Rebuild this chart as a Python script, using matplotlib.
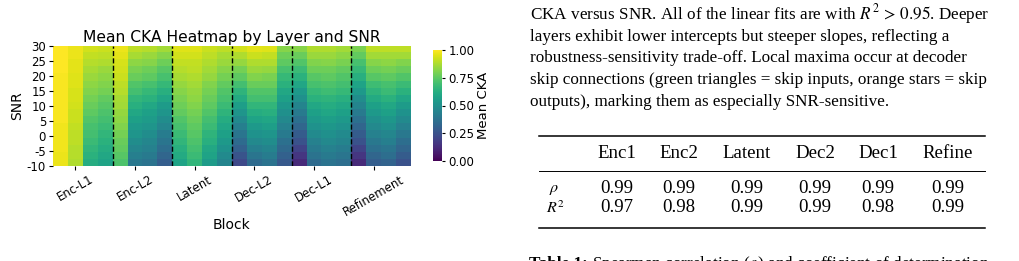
import numpy as np
import matplotlib.pyplot as plt
from matplotlib.lines import Line2D

plt.rcParams['mathtext.fontset'] = 'stix'
plt.rcParams['axes.unicode_minus'] = False

W, H = 1019, 261

blocks = ["Enc-L1", "Enc-L2", "Latent", "Dec-L2", "Dec-L1", "Refinement"]
snr_ticks = [30, 25, 20, 15, 10, 5, 0, -5, -10]
snr_min, snr_max = -10, 30

# mean CKA, 4 layers per block, each list runs from SNR -10 up to SNR 30
enc_l1 = [
    [.97, .97, .98, .98, .98, .98, .99, .99, .99, .99, .99, .99, .99, 1.0, 1.0, 1.0, 1.0],
    [.88, .89, .89, .90, .90, .91, .92, .92, .93, .94, .94, .95, .95, .96, .96, .97, .97],
    [.62, .64, .66, .68, .70, .71, .73, .75, .77, .79, .81, .83, .85, .87, .89, .91, .93],
    [.58, .60, .62, .64, .66, .68, .70, .72, .74, .76, .79, .81, .83, .85, .88, .90, .92],
]
enc_l2 = [
    [.72, .74, .76, .77, .79, .81, .83, .84, .86, .87, .89, .90, .92, .93, .94, .96, .97],
    [.40, .43, .46, .49, .52, .54, .57, .60, .63, .66, .70, .73, .77, .80, .83, .87, .90],
    [.38, .41, .44, .46, .49, .52, .55, .57, .60, .64, .67, .71, .75, .78, .82, .85, .89],
    [.30, .33, .36, .39, .42, .46, .49, .52, .55, .59, .63, .67, .71, .74, .78, .82, .86],
]
latent = [
    [.58, .61, .63, .66, .68, .71, .73, .76, .78, .80, .82, .84, .87, .89, .91, .93, .95],
    [.66, .68, .70, .72, .74, .75, .77, .79, .81, .83, .84, .86, .88, .90, .91, .93, .95],
    [.55, .58, .60, .63, .65, .68, .70, .73, .75, .77, .79, .81, .84, .86, .88, .90, .92],
    [.45, .48, .51, .54, .57, .59, .62, .65, .68, .71, .73, .76, .79, .82, .85, .87, .90],
]
dec_l2 = [
    [.22, .26, .31, .35, .39, .43, .48, .52, .56, .61, .65, .70, .75, .79, .84, .88, .93],
    [.35, .39, .43, .47, .51, .54, .58, .62, .66, .70, .73, .77, .81, .85, .88, .92, .96],
    [.38, .42, .45, .49, .52, .56, .59, .63, .66, .70, .73, .77, .80, .84, .88, .91, .95],
    [.28, .31, .34, .37, .41, .44, .47, .50, .53, .57, .60, .64, .67, .71, .75, .78, .82],
]
dec_l1 = [
    [.12, .16, .20, .25, .29, .33, .37, .41, .45, .50, .54, .59, .64, .68, .73, .77, .82],
    [.35, .38, .41, .44, .48, .51, .54, .57, .60, .64, .67, .71, .74, .78, .81, .85, .88],
    [.38, .41, .44, .47, .50, .53, .56, .59, .62, .65, .69, .72, .75, .78, .82, .85, .88],
    [.36, .39, .42, .45, .48, .51, .54, .57, .60, .63, .67, .70, .73, .76, .80, .83, .86],
]
refinement = [
    [.12, .16, .20, .25, .29, .33, .37, .41, .45, .49, .54, .58, .63, .67, .71, .76, .80],
    [.30, .33, .37, .40, .44, .47, .50, .54, .57, .61, .65, .69, .74, .78, .82, .86, .90],
    [.32, .36, .39, .43, .46, .50, .53, .57, .60, .64, .68, .71, .75, .79, .83, .86, .90],
    [.25, .29, .33, .36, .40, .44, .48, .51, .55, .59, .64, .68, .73, .77, .81, .86, .90],
]

# table values
table_cols = ["Enc1", "Enc2", "Latent", "Dec2", "Dec1", "Refine"]
rho = [0.99, 0.99, 0.99, 0.99, 0.99, 0.99]
r2 = [0.97, 0.98, 0.99, 0.99, 0.98, 0.99]

paragraph = [
    r"CKA versus SNR. All of the linear fits are with $R^2\,>\,0.95$. Deeper",
    "layers exhibit lower intercepts but steeper slopes, reflecting a",
    "robustness-sensitivity trade-off. Local maxima occur at decoder",
    "skip connections (green triangles = skip inputs, orange stars = skip",
    "outputs), marking them as especially SNR-sensitive.",
]


def fx(px):
    return px / W


def fy(py):
    return 1 - py / H


cols = enc_l1 + enc_l2 + latent + dec_l2 + dec_l1 + refinement
cka = np.array(cols).T
ncols = cka.shape[1]
per_block = ncols // len(blocks)

fig = plt.figure(figsize=(W / 100, H / 100), dpi=100)

ax = fig.add_axes([fx(53), fy(166), 358 / W, 120 / H])
im = ax.imshow(cka, cmap='viridis', vmin=0, vmax=1, aspect='auto', origin='lower',
               extent=[0, ncols, snr_min, snr_max], interpolation='nearest')
for k in range(1, len(blocks)):
    ax.axvline(k * per_block, color='black', ls='--', lw=1)
ax.set_xticks([k * per_block + 1.5 for k in range(len(blocks))])
ax.set_xticklabels(blocks, rotation=30)
ax.set_yticks(snr_ticks)
ax.tick_params(labelsize=8.5, length=3, pad=2)
for s in ax.spines.values():
    s.set_visible(False)
ax.set_xlabel('Block', fontsize=10, labelpad=0)
ax.set_ylabel('SNR', fontsize=10, labelpad=2)
ax.set_title('Mean CKA Heatmap by Layer and SNR', fontsize=11.2, pad=3)

cax = fig.add_axes([fx(433), fy(161), 9 / W, 111 / H])
cb = fig.colorbar(im, cax=cax, ticks=[0, 0.25, 0.5, 0.75, 1.0], format='%.2f')
cb.outline.set_visible(False)
cb.ax.tick_params(labelsize=8.5, length=2.5, pad=2)
cb.set_label('Mean CKA', fontsize=9.5, labelpad=2)

# paper text on the right
serif = 'Liberation Serif'
for i, line in enumerate(paragraph):
    fig.text(fx(530), fy(19 + i * 21.75), line, fontsize=12.3, family=serif,
             va='baseline', ha='left')

# booktabs style table
x0, x1 = fx(539), fx(985)
fig.add_artist(Line2D([x0, x1], [fy(136), fy(136)], color='black', lw=1.1))
fig.add_artist(Line2D([x0, x1], [fy(171), fy(171)], color='black', lw=0.7))
fig.add_artist(Line2D([x0, x1], [fy(228), fy(228)], color='black', lw=1.1))
col_x = [617, 679, 747, 815, 878, 948]
tsize = 13.6
for cx, name, a, b in zip(col_x, table_cols, rho, r2):
    fig.text(fx(cx), fy(158), name, fontsize=tsize, family=serif, ha='center', va='baseline')
    fig.text(fx(cx), fy(193), f"{a:.2f}", fontsize=tsize, family=serif, ha='center', va='baseline')
    fig.text(fx(cx), fy(212), f"{b:.2f}", fontsize=tsize, family=serif, ha='center', va='baseline')
fig.text(fx(549), fy(192), r"$\rho$", fontsize=11.5, ha='left', va='baseline')
fig.text(fx(546), fy(213), r"$R^2$", fontsize=11.5, ha='left', va='baseline')

# caption, cut off at the bottom edge
cap1 = fig.text(fx(529), fy(268), "Table 1:", fontsize=12.3, family=serif,
                weight='bold', va='baseline')
fig.canvas.draw()
bb = cap1.get_window_extent(fig.canvas.get_renderer())
fig.text(bb.x1 / W + fx(4), fy(268), "Spearman correlation ($\\rho$) and coefficient of determination",
         fontsize=12.3, family=serif, va='baseline')

fig.savefig('out.png', dpi=100)
